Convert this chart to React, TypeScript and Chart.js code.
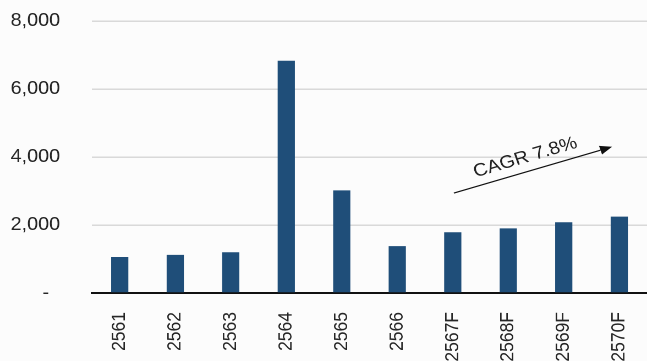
import React, { useEffect, useRef } from "react";
import { Chart, registerables } from "chart.js";

Chart.register(...registerables);

const categories = ["2561", "2562", "2563", "2564", "2565", "2566", "2567F", "2568F", "2569F", "2570F"];
const values = [1060, 1120, 1200, 6830, 3020, 1380, 1785, 1900, 2080, 2245];
const yTicks = [0, 2000, 4000, 6000, 8000];
const cagrLabel = "CAGR 7.8%";
const cagrStart = [6.02, 2940];
const cagrEnd = [8.87, 4300];

const FONT = "'Liberation Sans', Arial, Helvetica, sans-serif";
const OUT_W = 647;
const OUT_H = 361;
const STRETCH = 1.1;
const W = Math.round(OUT_W / STRETCH);
const sx = W / OUT_W;

const bgPlugin = {
  id: "bg",
  beforeDraw(chart: any) {
    const { ctx, width, height } = chart;
    ctx.save();
    ctx.fillStyle = "#fcfcfc";
    ctx.fillRect(0, 0, width, height);
    ctx.restore();
  },
};

const cagrPlugin = {
  id: "cagr",
  afterDatasetsDraw(chart: any) {
    const { ctx, scales } = chart;
    const x1 = scales.x.getPixelForValue(cagrStart[0]);
    const y1 = scales.y.getPixelForValue(cagrStart[1]);
    const x2 = scales.x.getPixelForValue(cagrEnd[0]);
    const y2 = scales.y.getPixelForValue(cagrEnd[1]);
    const ang = Math.atan2(y2 - y1, x2 - x1);
    ctx.save();
    ctx.strokeStyle = "#111";
    ctx.fillStyle = "#111";
    ctx.lineWidth = 1.2;
    const head = 11;
    const hx = x2 - head * Math.cos(ang);
    const hy = y2 - head * Math.sin(ang);
    ctx.beginPath();
    ctx.moveTo(x1, y1);
    ctx.lineTo(hx, hy);
    ctx.stroke();
    ctx.beginPath();
    ctx.moveTo(x2, y2);
    ctx.lineTo(hx + 4.5 * Math.sin(ang), hy - 4.5 * Math.cos(ang));
    ctx.lineTo(hx - 4.5 * Math.sin(ang), hy + 4.5 * Math.cos(ang));
    ctx.closePath();
    ctx.fill();
    const mx = (x1 + x2) / 2 - 3;
    const my = (y1 + y2) / 2;
    ctx.translate(mx, my);
    ctx.rotate(ang);
    ctx.fillStyle = "#222";
    ctx.font = `18px ${FONT}`;
    ctx.textAlign = "center";
    ctx.textBaseline = "alphabetic";
    ctx.fillText(cagrLabel, 0, -8);
    ctx.restore();
  },
};

export default function App() {
  const ref = useRef<HTMLCanvasElement>(null);
  useEffect(() => {
    const canvas = ref.current;
    if (!canvas) return;
    const chart = new Chart(canvas, {
      type: "bar",
      data: {
        labels: categories,
        datasets: [
          {
            data: values,
            backgroundColor: "#1f4e79",
            categoryPercentage: 1,
            barPercentage: 0.31,
          },
        ],
      },
      options: {
        animation: false,
        responsive: false,
        devicePixelRatio: 2,
        layout: { padding: { top: 21, right: 0, left: 0, bottom: 0 } },
        plugins: { legend: { display: false }, tooltip: { enabled: false } },
        scales: {
          x: {
            grid: { display: false, drawTicks: false },
            border: { display: true, color: "#111", width: 2 },
            ticks: {
              color: "#262626",
              font: { family: FONT, size: 17.5 },
              maxRotation: 90,
              minRotation: 90,
              padding: 19,
              autoSkip: false,
            },
            afterFit(scale: any) {
              scale.height = 68;
              scale.paddingLeft = 0;
              scale.paddingRight = 0;
            },
          },
          y: {
            min: 0,
            max: 8000,
            afterBuildTicks(scale: any) {
              scale.ticks = yTicks.map((v) => ({ value: v }));
            },
            grid: { color: "#d9d9d9", lineWidth: 1.5, drawTicks: false },
            border: { display: false },
            ticks: {
              color: "#262626",
              font: { family: FONT, size: 18 },
              padding: 29,
              callback: (v: any) => (v === 0 ? "-  " : Number(v).toLocaleString("en-US")),
            },
            afterFit(scale: any) {
              scale.width = 92 * sx;
              scale.paddingTop = 0;
              scale.paddingBottom = 0;
            },
          },
        },
      },
      plugins: [bgPlugin, cagrPlugin],
    });
    canvas.style.width = `${OUT_W}px`;
    canvas.style.height = `${OUT_H}px`;
    return () => chart.destroy();
  }, []);
  return (
    <div style={{ position: "fixed", left: 0, top: 0, width: OUT_W, height: OUT_H, overflow: "hidden" }}>
      <canvas ref={ref} width={W} height={OUT_H} style={{ display: "block", width: OUT_W, height: OUT_H }} />
    </div>
  );
}
